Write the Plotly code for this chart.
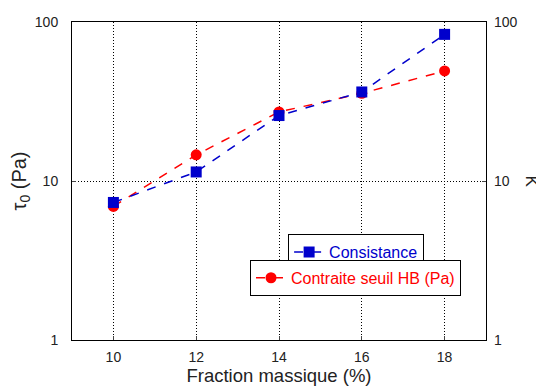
import plotly.graph_objects as go

fraction = [10, 12, 14, 16, 18]
consistance = [7.33, 11.4, 25.8, 36.3, 83.6]
contrainte = [6.92, 14.6, 27.2, 35.6, 49.2]
x_ticks = [10, 12, 14, 16, 18]
y_ticks = [1, 10, 100]

fig = go.Figure()
fig.add_trace(go.Scatter(
    x=fraction, y=consistance, mode='lines+markers', name='Consistance',
    line=dict(color='#0000CC', width=1.5, dash='dash'),
    marker=dict(symbol='square', size=11, color='#0000CC'),
    yaxis='y2', legend='legend'
))
fig.add_trace(go.Scatter(
    x=fraction, y=contrainte, mode='lines+markers', name='Contraite seuil HB (Pa)',
    line=dict(color='#FF0000', width=1.5, dash='dash'),
    marker=dict(symbol='circle', size=11, color='#FF0000'),
    legend='legend2'
))

# the page adds an 8px body margin, so the figure is drawn 8px smaller
axis_font = dict(family='Liberation Sans, Arial', size=14, color='#222')
fig.update_layout(
    width=536, height=382,
    margin=dict(l=64, r=58, t=14, b=50),
    paper_bgcolor='white', plot_bgcolor='white',
    font=dict(family='Liberation Sans, Arial', size=14, color='#222'),
    xaxis=dict(
        range=[9, 19], tickvals=x_ticks, ticks='inside', ticklen=4,
        showline=True, linecolor='black', mirror=True, linewidth=1,
        showgrid=True, gridcolor='black', griddash='1px,2px', gridwidth=1,
        zeroline=False, tickfont=axis_font, automargin=False,
        ticklabelstandoff=4,
        title=dict(text='Fraction massique (%)', font=dict(size=18.5), standoff=5)
    ),
    yaxis=dict(
        type='log', range=[0, 2], tickvals=y_ticks, ticktext=['1', '10', '100'],
        ticks='inside', ticklen=4, automargin=False, ticklabelstandoff=10,
        showline=True, linecolor='black', mirror=True, linewidth=1,
        showgrid=True, gridcolor='black', griddash='1px,2px', gridwidth=1,
        tickfont=axis_font,
        title=dict(text='τ<sub>0</sub> (Pa)', font=dict(size=20), standoff=8)
    ),
    yaxis2=dict(
        type='log', range=[0, 2], tickvals=y_ticks, ticktext=['1', '10', '100'],
        overlaying='y', side='right', ticks='inside', ticklen=4,
        showgrid=False, tickfont=axis_font, automargin=False,
        ticklabelstandoff=7
    ),
    annotations=[dict(
        text='K', textangle=90, x=1.11, y=0.5, xref='paper', yref='paper',
        xanchor='center', yanchor='middle',
        showarrow=False, font=dict(size=17, color='#222')
    )],
    legend=dict(
        x=0.522, y=0.333, xanchor='left', yanchor='top',
        bgcolor='white', bordercolor='black', borderwidth=1,
        font=dict(size=16, color='#0000CC'), tracegroupgap=0,
        itemwidth=30
    ),
    legend2=dict(
        x=0.430, y=0.252, xanchor='left', yanchor='top',
        bgcolor='white', bordercolor='black', borderwidth=1,
        font=dict(size=16, color='#FF0000'), tracegroupgap=0,
        itemwidth=30
    ),
    showlegend=True
)
fig.write_html('out.html')
